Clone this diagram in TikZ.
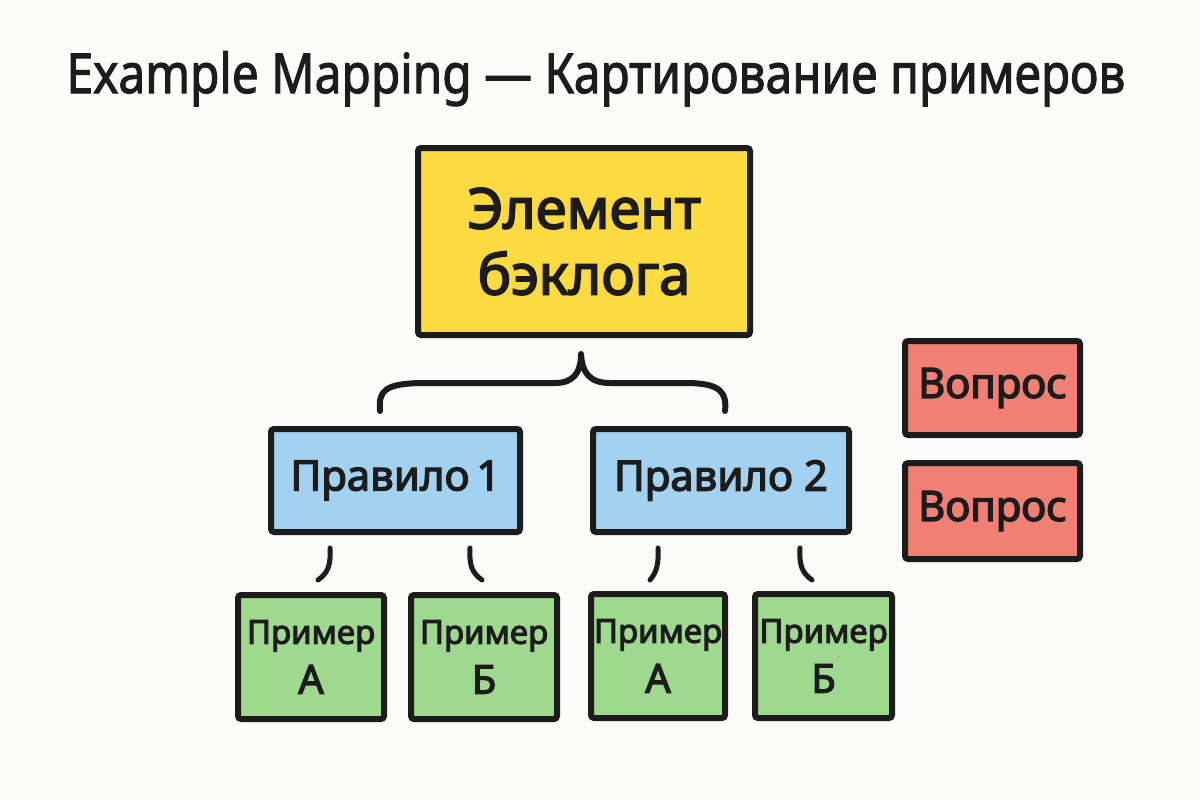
\documentclass[tikz,border=0pt]{standalone}
\usepackage{fontspec}
\setmainfont{Noto Sans}
\newfontfamily\boxfont[FakeBold=3]{Noto Sans}
\newfontfamily\titlefont[FakeBold=2]{Noto Sans}
\definecolor{bg}{HTML}{FBFBF9}
\definecolor{ink}{HTML}{1C1C1C}
\definecolor{yel}{HTML}{FDDA3F}
\definecolor{blu}{HTML}{A2D2F0}
\definecolor{red}{HTML}{F07F74}
\definecolor{grn}{HTML}{9FD88F}
\tikzset{
  card/.style={draw=ink, line width=6pt, rounded corners=3pt, inner sep=0pt, align=center, text=ink},
  yelbox/.style={card, fill=yel, minimum width=332pt, minimum height=187pt, font=\boxfont\fontsize{56}{66}\selectfont},
  blubox/.style={card, fill=blu, minimum height=103pt, font=\boxfont\fontsize{42}{48}\selectfont},
  redbox/.style={card, fill=red, minimum width=175pt, font=\boxfont\fontsize{42}{46}\selectfont},
  grnbox/.style={card, fill=grn, minimum height=124pt, font=\boxfont\fontsize{33}{50}\selectfont},
  link/.style={draw=ink, line width=5pt, line cap=round},
  brace/.style={draw=ink, line width=6pt, line cap=round, line join=round}
}
\newcommand\bigletter{\fontsize{40}{50}\selectfont}
\begin{document}
\begin{tikzpicture}[x=1pt,y=-1pt]
\fill[bg] (0,0) rectangle (1200,800);
\useasboundingbox (0,0) rectangle (1200,800);
\node[anchor=base, text=ink, font=\titlefont\fontsize{55}{60}\selectfont, xscale=0.87] (title) at (596,93) {Example Mapping — Картирование примеров};
\node[yelbox] (item) at (584,241.5) {Элемент\\бэклога};
\node[blubox, minimum width=249pt] (r1) at (395.5,480.5) {Правило\,1};
\node[blubox, minimum width=256pt] (r2) at (721,480.5) {Правило 2};
\node[redbox, minimum height=94pt] (q1) at (992.5,388) {Вопрос};
\node[redbox, minimum height=96pt] (q2) at (992.5,511) {Вопрос};
\node[grnbox, minimum width=146pt] (e1) at (311,657) {Пример\\\bigletter А};
\node[grnbox, minimum width=146pt] (e2) at (484,657) {Пример\\\bigletter Б};
\node[grnbox, minimum width=134pt] (e3) at (658,656) {Пример\\\bigletter А};
\node[grnbox, minimum width=137pt] (e4) at (823.5,656) {Пример\\\bigletter Б};
% brace
\coordinate (bl) at (380,411);
\coordinate (bm) at (581,354);
\coordinate (br) at (725,411);
\path[brace] (bl) .. controls (378,390) and (386,384) .. (420,383) -- (555,383)
  .. controls (574,383) and (581,372) .. (bm)
  .. controls (582,372) and (589,383) .. (610,383) -- (690,383)
  .. controls (720,384) and (727,392) .. (br);
% small links
\coordinate (a1) at (330,548); \coordinate (a2) at (318,580);
\coordinate (b1) at (470,548); \coordinate (b2) at (482,580);
\coordinate (c1) at (658,548); \coordinate (c2) at (650,580);
\coordinate (d1) at (800,548); \coordinate (d2) at (812,580);
\path[link] (a1) .. controls (331,565) and (328,573) .. (a2);
\path[link] (b1) .. controls (469,565) and (472,573) .. (b2);
\path[link] (c1) .. controls (659,565) and (656,573) .. (c2);
\path[link] (d1) .. controls (799,565) and (802,573) .. (d2);
\end{tikzpicture}
\end{document}
